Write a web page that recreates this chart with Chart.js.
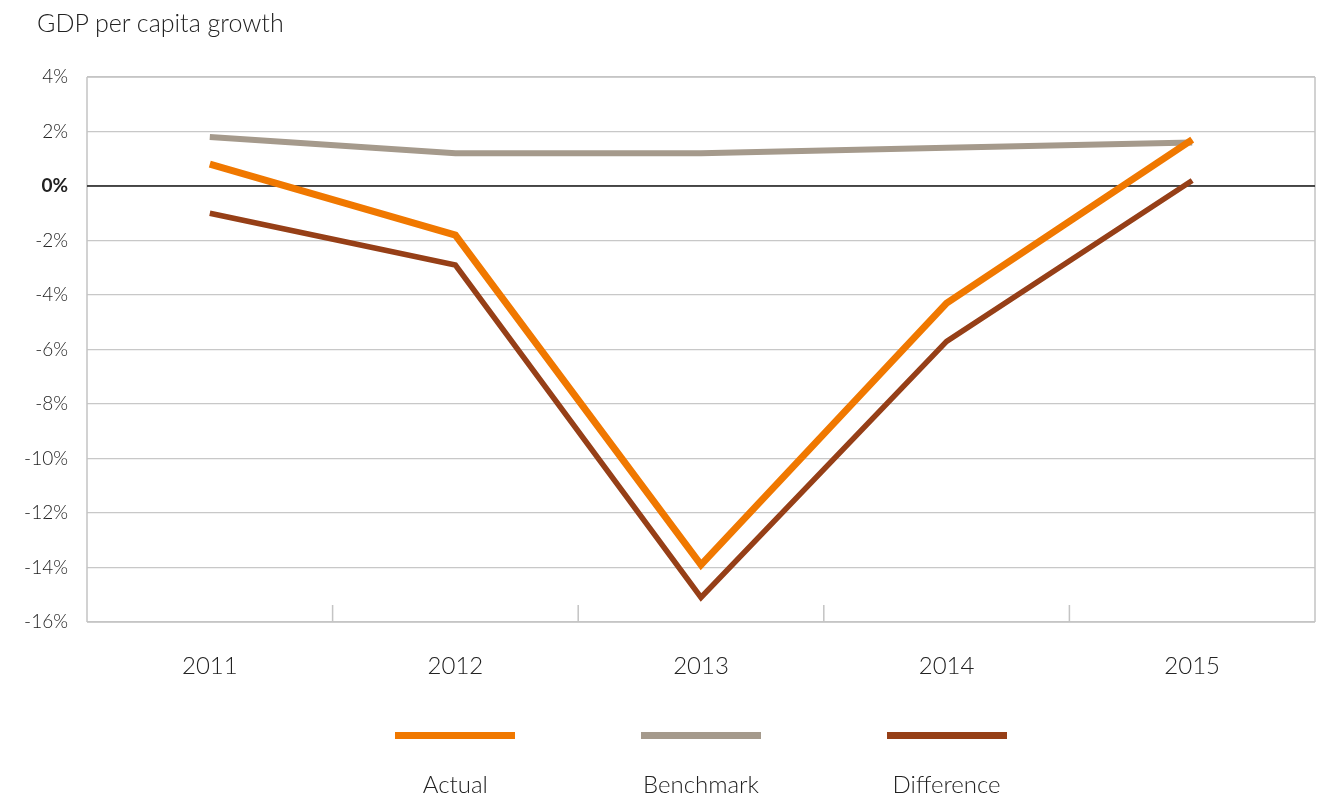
<!DOCTYPE html>
<html>
<head>
<meta charset="utf-8">
<script src="https://cdn.jsdelivr.net/npm/chart.js@4"></script>
<style>
  html, body { margin: 0; padding: 0; background: #fff; }
  #wrap { position: relative; width: 1335px; height: 799px; overflow: hidden; font-family: Lato, "Open Sans", sans-serif; color: #222; }
  #c { position: absolute; left: 0; top: 0; }
  #title { position: absolute; left: 37px; top: 7px; font-size: 25px; font-weight: 300; color: #222; }
  .sw { position: absolute; height: 7px; width: 120px; top: 732px; }
  .lab { position: absolute; top: 769px; width: 200px; text-align: center; font-size: 24px; font-weight: 300; color: #222; }
</style>
</head>
<body>
<div id="wrap">
  <canvas id="c" width="1335" height="799"></canvas>
  <div id="title">GDP per capita growth</div>
  <div id="legend"></div>
</div>
<script>
const categories = ["2011", "2012", "2013", "2014", "2015"];
const actual = [0.8, -1.8, -13.9, -4.3, 1.7];
const benchmark = [1.8, 1.2, 1.2, 1.4, 1.6];
const difference = [-1.0, -2.9, -15.1, -5.7, 0.2];
const seriesNames = ["Actual", "Benchmark", "Difference"];
const seriesColors = ["#F07800", "#A59A8C", "#963F17"];
const yTicks = [4, 2, 0, -2, -4, -6, -8, -10, -12, -14, -16];

const framePlugin = {
  id: 'frame',
  beforeDatasetsDraw(chart) {
    const { ctx, chartArea: a, scales: { x, y } } = chart;
    ctx.save();
    ctx.strokeStyle = '#c4c4c4';
    ctx.lineWidth = 1.5;
    ctx.beginPath();
    ctx.moveTo(a.left, a.top); ctx.lineTo(a.right, a.top);
    ctx.moveTo(a.right, a.top); ctx.lineTo(a.right, a.bottom);
    ctx.moveTo(a.left, a.bottom); ctx.lineTo(a.right, a.bottom);
    ctx.moveTo(a.left, a.top); ctx.lineTo(a.left, a.bottom);
    for (let i = 0; i < categories.length - 1; i++) {
      const px = (x.getPixelForValue(i) + x.getPixelForValue(i + 1)) / 2;
      ctx.moveTo(px, a.bottom); ctx.lineTo(px, a.bottom - 17);
    }
    ctx.stroke();
    const y0 = y.getPixelForValue(0);
    ctx.strokeStyle = '#1a1a1a';
    ctx.lineWidth = 1.5;
    ctx.beginPath();
    ctx.moveTo(a.left, y0); ctx.lineTo(a.right, y0);
    ctx.stroke();
    ctx.restore();
  }
};

const legendPlugin = {
  id: 'htmlLegend',
  afterRender(chart) {
    const el = document.getElementById('legend');
    if (el.dataset.done) return;
    el.dataset.done = '1';
    const x = chart.scales.x;
    let html = '';
    seriesNames.forEach((n, i) => {
      const cx = x.getPixelForValue(i + 1);
      html += `<div class="sw" style="left:${cx - 60}px;background:${seriesColors[i]}"></div>`;
      html += `<div class="lab" style="left:${cx - 100}px">${n}</div>`;
    });
    el.innerHTML = html;
  }
};

new Chart(document.getElementById('c'), {
  type: 'line',
  data: {
    labels: categories,
    datasets: [
      { label: seriesNames[0], data: actual, borderColor: seriesColors[0], borderWidth: 7, order: 1 },
      { label: seriesNames[1], data: benchmark, borderColor: seriesColors[1], borderWidth: 6, order: 3 },
      { label: seriesNames[2], data: difference, borderColor: seriesColors[2], borderWidth: 5.5, order: 2 }
    ]
  },
  options: {
    responsive: false,
    animation: false,
    devicePixelRatio: 1,
    layout: { padding: { left: 0, right: 20, top: 77, bottom: 0 } },
    elements: { point: { radius: 0 }, line: { tension: 0, borderCapStyle: 'butt', borderJoinStyle: 'miter' } },
    plugins: { legend: { display: false }, tooltip: { enabled: false } },
    scales: {
      x: {
        offset: true,
        grid: { display: false, drawTicks: false },
        border: { display: false },
        ticks: { padding: 30, color: '#222', font: { family: 'Lato', size: 24, weight: 300 } },
        afterFit(s) { s.height = 177; }
      },
      y: {
        min: -16, max: 4,
        afterBuildTicks(s) { s.ticks = yTicks.map(v => ({ value: v })); },
        grid: { color: '#c8c8c8', lineWidth: 1.2, drawTicks: false },
        border: { display: false },
        ticks: {
          padding: 19,
          color: '#222',
          callback: v => v + '%',
          font: ctx => ({ family: 'Lato', size: 19, weight: ctx.tick && ctx.tick.value === 0 ? 'bold' : 300 })
        },
        afterFit(s) { s.width = 87; }
      }
    }
  },
  plugins: [framePlugin, legendPlugin]
});
</script>
</body>
</html>
